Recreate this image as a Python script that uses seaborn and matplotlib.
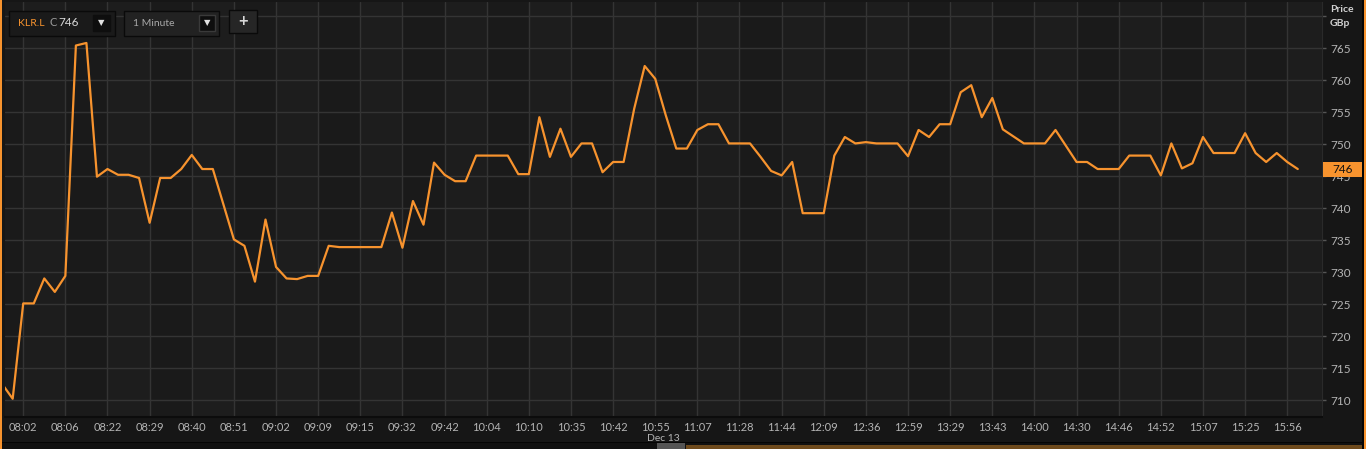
import numpy as np
import pandas as pd
import matplotlib.pyplot as plt
import seaborn as sns
from matplotlib.patches import Rectangle

# Data (one point per tick, first point clipped at the left edge)
prices = [712.5, 710.2, 725.1, 725.1, 729.0, 726.9, 729.4, 765.4, 765.8, 744.9,
          746.1, 745.2, 745.2, 744.7, 737.7, 744.7, 744.7, 746.1, 748.3, 746.1,
          746.1, 740.6, 735.1, 734.1, 728.5, 738.2, 730.8, 729.0, 728.9, 729.4,
          729.4, 734.1, 733.9, 733.9, 733.9, 733.9, 733.9, 739.3, 733.8, 741.1,
          737.4, 747.1, 745.2, 744.2, 744.2, 748.2, 748.2, 748.2, 748.2, 745.3,
          745.3, 754.2, 748.0, 752.4, 748.0, 750.1, 750.1, 745.6, 747.2, 747.2,
          755.5, 762.2, 760.2, 754.5, 749.3, 749.3, 752.2, 753.1, 753.1, 750.1,
          750.1, 750.1, 748.0, 745.8, 745.1, 747.2, 739.2, 739.2, 739.2, 748.2,
          751.1, 750.1, 750.3, 750.1, 750.1, 750.1, 748.1, 752.2, 751.1, 753.1,
          753.1, 758.1, 759.2, 754.2, 757.2, 752.3, 751.2, 750.1, 750.1, 750.1,
          752.2, 749.7, 747.2, 747.2, 746.1, 746.1, 746.1, 748.2, 748.2, 748.2,
          745.1, 750.1, 746.2, 747.0, 751.1, 748.6, 748.6, 748.6, 751.7, 748.6,
          747.2, 748.6, 747.2, 746.1]
time_labels = ['08:02', '08:06', '08:22', '08:29', '08:40', '08:51', '09:02', '09:09',
               '09:15', '09:32', '09:42', '10:04', '10:10', '10:35', '10:42', '10:55',
               '11:07', '11:28', '11:44', '12:09', '12:36', '12:59', '13:29', '13:43',
               '14:00', '14:30', '14:46', '14:52', '15:07', '15:25', '15:56']
price_ticks = [710, 715, 720, 725, 730, 735, 740, 745, 750, 755, 760, 765, 770]
last_price = 746

df = pd.DataFrame({'tick': np.arange(len(prices)) - 1, 'price': prices})

ORANGE = '#f7932e'
PLOT_BG = '#1d1d1d'
PANEL_BG = '#161616'
GRID = '#343434'
TEXT = '#b4b4b4'

sns.set_style('dark')
plt.rcParams['font.family'] = ['Lato', 'DejaVu Sans']

W, H = 1366, 449
fig = plt.figure(figsize=(W / 100, H / 100), dpi=100, facecolor=PANEL_BG)

# helper: pixel box (from top-left) -> figure fraction
def fbox(x0, y0, x1, y1):
    return [x0 / W, 1 - y1 / H, (x1 - x0) / W, (y1 - y0) / H]

ax = fig.add_axes(fbox(5, 2, 1322, 417))
ax.set_facecolor(PLOT_BG)

# Price line
sns.lineplot(data=df, x='tick', y='price', ax=ax, color=ORANGE, linewidth=1.6, zorder=3)

ax.set_xlim(-0.73, 124.3)
ax.set_ylim(707.35, 772.2)

# x ticks every 4 points
xt = np.arange(1, 1 + 4 * len(time_labels), 4)
ax.set_xticks(xt)
ax.set_xticklabels(time_labels)

# alternating column shading between gridlines
for j in range(0, len(xt) + 1, 2):
    ax.axvspan(xt[0] + 4 * (j - 1), xt[0] + 4 * j, color='#1a1a1a', zorder=0, lw=0)

ax.set_yticks(price_ticks)
ax.set_yticklabels([str(v) if v < 770 else '' for v in price_ticks])
ax.yaxis.tick_right()

ax.grid(True, color=GRID, linewidth=1, zorder=1)
ax.tick_params(axis='x', colors=GRID, labelcolor=TEXT, length=4.5, width=1, pad=-1, labelsize=8)
ax.tick_params(axis='y', colors='#555555', labelcolor=TEXT, length=3, width=1, pad=3, labelsize=8.5)
ax.set_xlabel('')
ax.set_ylabel('')
for side in ['top', 'left']:
    ax.spines[side].set_visible(False)
ax.spines['right'].set_color('#2a2a2a')
ax.spines['bottom'].set_color('#0c0c0c')
ax.spines['bottom'].set_linewidth(1.5)

# last price marker on the right axis
yt = ax.get_yaxis_transform()
ax.add_patch(Rectangle((1.0008, last_price - 1.2), 40 / 1317, 2.4, transform=yt,
                       fc=ORANGE, ec='none', clip_on=False, zorder=5))
ax.text(1.0008 + 20 / 1317, last_price, str(last_price), transform=yt,
        ha='center', va='center', fontsize=8.5, color='#111111', zorder=6)

# axis caption
fig.text(1330 / W, 1 - 9 / H, 'Price', color='#d0d0d0', fontsize=7.5, fontweight='bold', va='center')
fig.text(1330 / W, 1 - 24 / H, 'GBp', color='#d0d0d0', fontsize=7.5, fontweight='bold', va='center')
fig.text(663 / W, 1 - 438.5 / H, 'Dec 13', color=TEXT, fontsize=7.5, ha='center', va='center')

# frame: bottom strip, scrollbar, orange edges
fig.add_artist(Rectangle((0, 0), 1, 6 / H, transform=fig.transFigure, fc='#101010', ec='none'))
fig.add_artist(Rectangle((0, 6 / H), 1, 1.5 / H, transform=fig.transFigure, fc='#050505', ec='none'))
fig.add_artist(Rectangle((657 / W, 0), 28 / W, 6 / H, transform=fig.transFigure, fc='#555555', ec='none'))
fig.add_artist(Rectangle((686 / W, 0), 676 / W, 4 / H, transform=fig.transFigure, fc='#6e4a1c', ec='none'))
fig.add_artist(Rectangle((0, 0), 2 / W, 1, transform=fig.transFigure, fc=ORANGE, ec='none'))
fig.add_artist(Rectangle((1362 / W, 0), 1.5 / W, 1, transform=fig.transFigure, fc='#050505', ec='none'))
fig.add_artist(Rectangle((1364 / W, 0), 2 / W, 1, transform=fig.transFigure, fc=ORANGE, ec='none'))

# top-left controls
def box(x0, y0, x1, y1, fc, ec):
    b = fbox(x0, y0, x1, y1)
    fig.add_artist(Rectangle((b[0], b[1]), b[2], b[3], transform=fig.transFigure,
                             fc=fc, ec=ec, lw=1, zorder=5))

box(9, 11, 115, 36, '#1a1a1a', '#0a0a0a')
box(93, 15, 110, 31, '#0e0e0e', '#0e0e0e')
fig.text(18 / W, 1 - 23 / H, 'KLR.L', color=ORANGE, fontsize=7.5, va='center', zorder=6)
fig.text(50 / W, 1 - 23 / H, 'C', color='#9a9a9a', fontsize=8, va='center', zorder=6)
fig.text(58 / W, 1 - 23 / H, '746', color='#d8d8d8', fontsize=8.5, va='center', zorder=6)
fig.text(101.5 / W, 1 - 23 / H, '▼', color='#e0e0e0', fontsize=6, ha='center', va='center', zorder=6)

box(124, 11, 219, 36, '#222222', '#0a0a0a')
box(199, 15, 215, 31, '#0e0e0e', '#3a3a3a')
fig.text(133 / W, 1 - 23 / H, '1 Minute', color='#a8a8a8', fontsize=7.5, va='center', zorder=6)
fig.text(207 / W, 1 - 23 / H, '▼', color='#e0e0e0', fontsize=6, ha='center', va='center', zorder=6)

box(229, 10, 257, 33, '#262626', '#0a0a0a')
fig.text(243 / W, 1 - 21 / H, '+', color='#d8d8d8', fontsize=12, fontweight='bold',
         ha='center', va='center', zorder=6)

plt.savefig('out.png', dpi=100, facecolor=fig.get_facecolor())
